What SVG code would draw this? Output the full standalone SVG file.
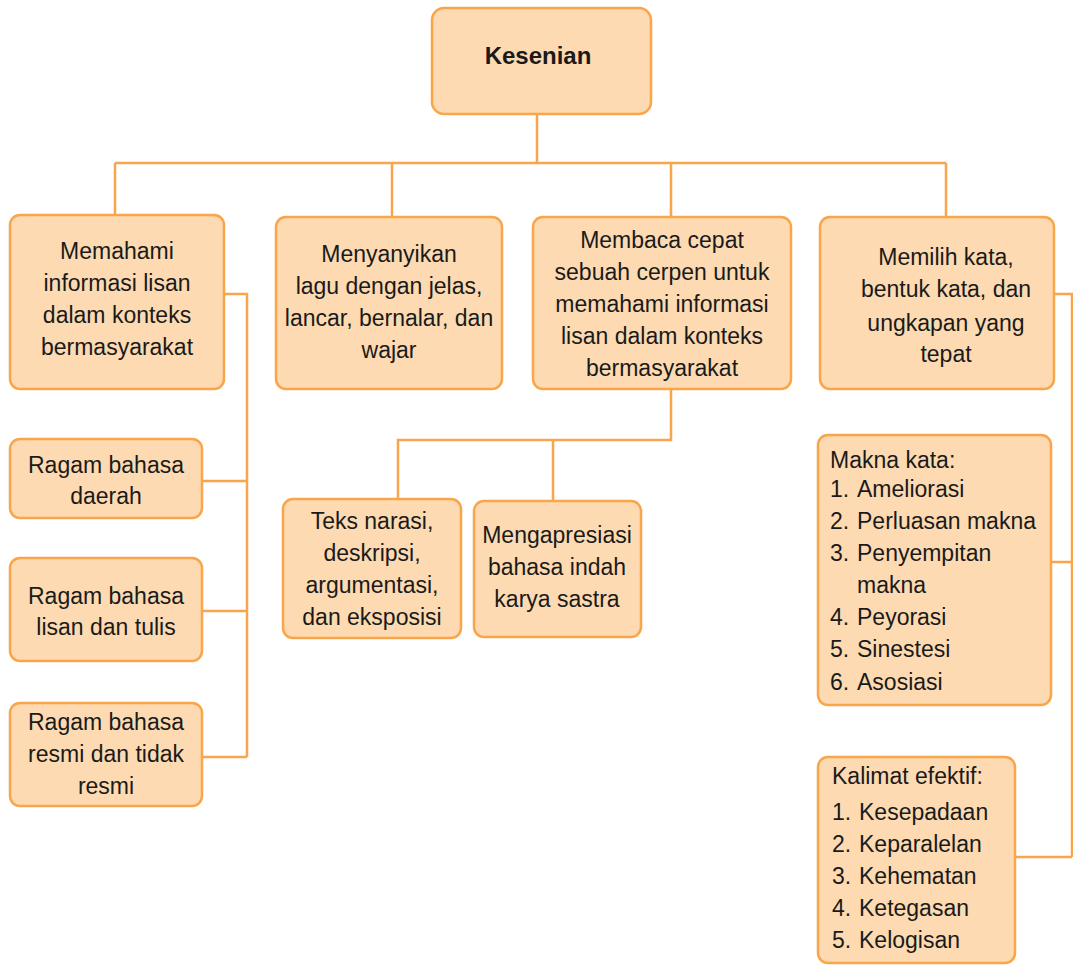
<svg xmlns="http://www.w3.org/2000/svg" width="1073" height="966" viewBox="0 0 1073 966">
<style>
.box{fill:#fddab1;stroke:#f9a54a;stroke-width:2.5}
.ln{fill:none;stroke:#f9a54a;stroke-width:2.5}
text{font-family:"Liberation Sans",Arial,sans-serif;font-size:23px;fill:#1a1a1a}
.c{text-anchor:middle}
.b{font-weight:bold;font-size:24px}
</style>
<rect width="1073" height="966" fill="#ffffff"/>
<g id="connectors">
<path class="ln" d="M537,114 V163 M115,163 H946 M115,163 V215 M392,163 V217 M671,163 V217 M946,163 V217"/>
<path class="ln" d="M224,294 H247 V757 M202,481 H247 M202,611 H247 M202,757 H247"/>
<path class="ln" d="M671,389 V440 H398 V500 M553,440 V501"/>
<path class="ln" d="M1054,294 H1072 V857 M1051,562 H1072 M1015,857 H1072"/>
</g>
<g id="kesenian">
<rect class="box" x="432" y="8" width="219" height="106" rx="12"/>
<text class="c b" x="538" y="64">Kesenian</text>
</g>
<g id="memahami">
<rect class="box" x="10" y="215" width="214" height="174" rx="10"/>
<text class="c" x="117"><tspan x="117" y="259">Memahami</tspan><tspan x="117" y="291">informasi lisan</tspan><tspan x="117" y="323">dalam konteks</tspan><tspan x="117" y="355">bermasyarakat</tspan></text>
</g>
<g id="ragam-daerah">
<rect class="box" x="10" y="439" width="192" height="79" rx="10"/>
<text class="c" x="106"><tspan x="106" y="473">Ragam bahasa</tspan><tspan x="106" y="504">daerah</tspan></text>
</g>
<g id="ragam-lisan">
<rect class="box" x="10" y="558" width="192" height="103" rx="10"/>
<text class="c" x="106"><tspan x="106" y="604">Ragam bahasa</tspan><tspan x="106" y="635">lisan dan tulis</tspan></text>
</g>
<g id="ragam-resmi">
<rect class="box" x="10" y="703" width="192" height="103" rx="10"/>
<text class="c" x="106"><tspan x="106" y="730">Ragam bahasa</tspan><tspan x="106" y="762">resmi dan tidak</tspan><tspan x="106" y="794">resmi</tspan></text>
</g>
<g id="menyanyikan">
<rect class="box" x="276" y="217" width="226" height="172" rx="10"/>
<text class="c" x="389"><tspan x="389" y="262">Menyanyikan</tspan><tspan x="389" y="294">lagu dengan jelas,</tspan><tspan x="389" y="326">lancar, bernalar, dan</tspan><tspan x="389" y="358">wajar</tspan></text>
</g>
<g id="membaca">
<rect class="box" x="533" y="217" width="258" height="172" rx="10"/>
<text class="c" x="662"><tspan x="662" y="248">Membaca cepat</tspan><tspan x="662" y="280">sebuah cerpen untuk</tspan><tspan x="662" y="312">memahami informasi</tspan><tspan x="662" y="344">lisan dalam konteks</tspan><tspan x="662" y="376">bermasyarakat</tspan></text>
</g>
<g id="teks">
<rect class="box" x="283" y="499" width="178" height="139" rx="10"/>
<text class="c" x="372"><tspan x="372" y="529">Teks narasi,</tspan><tspan x="372" y="561">deskripsi,</tspan><tspan x="372" y="593">argumentasi,</tspan><tspan x="372" y="625">dan eksposisi</tspan></text>
</g>
<g id="mengapresiasi">
<rect class="box" x="474" y="501" width="167" height="136" rx="10"/>
<text class="c" x="557"><tspan x="557" y="543">Mengapresiasi</tspan><tspan x="557" y="575">bahasa indah</tspan><tspan x="557" y="607">karya sastra</tspan></text>
</g>
<g id="memilih">
<rect class="box" x="820" y="217" width="234" height="172" rx="10"/>
<text class="c" x="946"><tspan x="946" y="265">Memilih kata,</tspan><tspan x="946" y="297">bentuk kata, dan</tspan><tspan x="946" y="331">ungkapan yang</tspan><tspan x="946" y="362">tepat</tspan></text>
</g>
<g id="makna">
<rect class="box" x="818" y="435" width="233" height="270" rx="10"/>
<text x="830" y="468">Makna kata:</text>
<text x="830" y="497">1.</text><text x="857" y="497">Ameliorasi</text>
<text x="830" y="529">2.</text><text x="857" y="529">Perluasan makna</text>
<text x="830" y="561">3.</text><text x="857" y="561">Penyempitan</text>
<text x="857" y="593">makna</text>
<text x="830" y="625">4.</text><text x="857" y="625">Peyorasi</text>
<text x="830" y="657">5.</text><text x="857" y="657">Sinestesi</text>
<text x="830" y="690">6.</text><text x="857" y="690">Asosiasi</text>
</g>
<g id="kalimat">
<rect class="box" x="818" y="757" width="197" height="206" rx="10"/>
<text x="832" y="784">Kalimat efektif:</text>
<text x="832" y="820">1.</text><text x="859" y="820">Kesepadaan</text>
<text x="832" y="852">2.</text><text x="859" y="852">Keparalelan</text>
<text x="832" y="884">3.</text><text x="859" y="884">Kehematan</text>
<text x="832" y="916">4.</text><text x="859" y="916">Ketegasan</text>
<text x="832" y="948">5.</text><text x="859" y="948">Kelogisan</text>
</g>
</svg>
